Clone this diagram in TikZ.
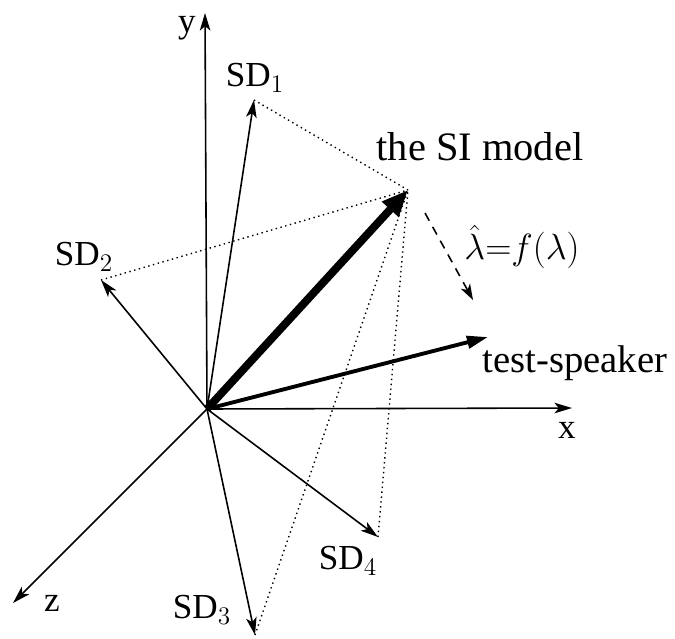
\documentclass[tikz,border=0pt]{standalone}
\usepackage{fontspec}
\setmainfont{Liberation Serif}
\usetikzlibrary{
  arrows.meta,
  positioning
}

\tikzset{
  vec/.style={line width=0.9pt, -{Stealth[length=10pt,width=6pt,inset=2.5pt]}},
  proj/.style={dotted, line width=0.8pt},
  lbl/.style={font=\fontsize{20}{24}\selectfont, inner sep=0pt},
  biglbl/.style={font=\fontsize{23}{27}\selectfont, inner sep=0pt}
}

\begin{document}
\begin{tikzpicture}[x=0.02cm, y=-0.02cm]
  \useasboundingbox (0,0) rectangle (675,638);

  % origin and tips (pixel grid, y down)
  \coordinate (O) at (207,409);
  \coordinate (X) at (572,408);
  \coordinate (Y) at (205,13);
  \coordinate (Z) at (13,603);
  \coordinate (SD1) at (254,100);
  \coordinate (SD2) at (101,280);
  \coordinate (SD3) at (255,635);
  \coordinate (SD4) at (378,537);
  \coordinate (SI) at (408,190);
  \coordinate (TS) at (488,337);
  \coordinate (F1) at (425,213);
  \coordinate (F2) at (473,300);

  % axes
  \foreach \a in {X,Y,Z}
    \draw[vec] (O) -- (\a);

  % speaker-dependent models
  \foreach \k in {1,...,4}
    \draw[vec] (O) -- (SD\k);

  % projections onto the SI model
  \foreach \k in {1,...,4}
    \draw[proj] (SD\k) -- (SI);

  % SI model and test speaker
  \draw[line width=4.5pt, -{Triangle[length=15pt,width=12pt]}] (O) -- (SI);
  \draw[line width=2.2pt, -{Triangle[length=12pt,width=7pt]}] (O) -- (TS);

  % transformation
  \draw[line width=0.9pt, dash pattern=on 5pt off 4pt,
    -{Stealth[length=9pt,width=6pt,inset=2.5pt]}] (F1) -- (F2);

  % labels
  \node[lbl] (ly) at (187,28) {y};
  \node[lbl] (lx) at (567,430) {x};
  \node[lbl] (lz) at (52,603) {z};
  \node[lbl] (l1) at (255,78) {SD$_1$};
  \node[lbl] (l2) at (84,257) {SD$_2$};
  \node[lbl] (l3) at (202,610) {SD$_3$};
  \node[lbl] (l4) at (348,561) {SD$_4$};
  \node[biglbl] (lsi) at (480,147) {the SI model};
  \node[biglbl, font=\fontsize{22}{26}\selectfont] (lts) at (575,363) {test-speaker};
  \node[font=\fontsize{22}{26}\selectfont, inner sep=0pt] (lf) at (522,247)
    {$\hat{\lambda}{=}f(\lambda)$};
\end{tikzpicture}
\end{document}
